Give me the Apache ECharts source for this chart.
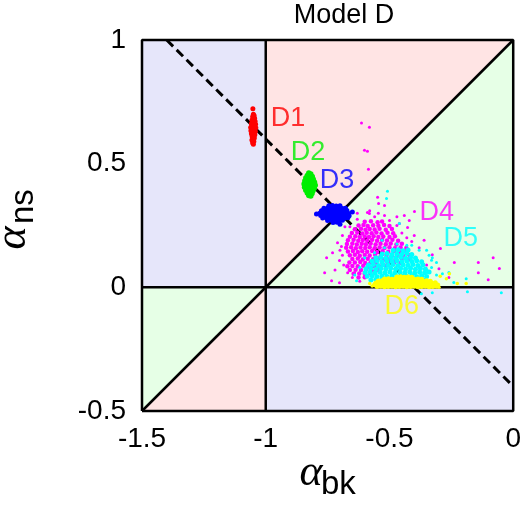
<!DOCTYPE html>
<html>
<head>
<meta charset="utf-8">
<script src="https://cdn.jsdelivr.net/npm/echarts@6/dist/echarts.min.js"></script>
<style>html,body{margin:0;padding:0;background:#fff}#c{width:524px;height:515px}</style>
</head>
<body>
<div id="c"></div>
<script>
// ---- axes ----
const xTicks = [-1.5, -1, -0.5, 0];
const yTicks = [-0.5, 0, 0.5, 1];

// ---- background regions (polygons in data space) ----
const regionPolys = [
  [[-1.5,0],[-1,0],[-1,1],[-1.5,1]],
  [[-1,0],[-1,1],[0,1]],
  [[-1,0],[0,1],[0,0]],
  [[-1,-0.5],[0,-0.5],[0,0],[-1,0]],
  [[-1.5,-0.5],[-1.5,0],[-1,0]],
  [[-1.5,-0.5],[-1,0],[-1,-0.5]]
];
const regionColors = ['#e6e6fa','#ffe4e4','#e6ffe6','#e6e6fa','#e6ffe6','#ffe4e4'];

// ---- reference lines ----
const diagLine = [[-1.5,-0.5],[0,1]];
const dashLine = [[-1.4,1],[0,-0.4]];
const vLine = [[-1,-0.5],[-1,1]];
const hLine = [[-1.5,0],[0,0]];
const frameLine = [[-1.5,-0.5],[0,-0.5],[0,1],[-1.5,1],[-1.5,-0.5]];

// ---- clusters ----
const d1 = [
[-1.052,0.722],
[-1.050,0.700],[-1.047,0.695],[-1.053,0.690],
[-1.045,0.684],[-1.051,0.681],[-1.056,0.676],
[-1.043,0.672],[-1.049,0.669],[-1.054,0.666],[-1.058,0.661],
[-1.041,0.659],[-1.046,0.656],[-1.052,0.654],[-1.057,0.650],[-1.061,0.646],
[-1.040,0.645],[-1.044,0.642],[-1.050,0.640],[-1.055,0.637],[-1.060,0.633],
[-1.042,0.630],[-1.047,0.627],[-1.053,0.625],[-1.058,0.621],
[-1.044,0.617],[-1.049,0.613],[-1.055,0.610],
[-1.046,0.604],[-1.051,0.600],[-1.056,0.596],
[-1.048,0.590],[-1.053,0.585],
[-1.050,0.578]
];
const d2 = [
[-0.826,0.462],[-0.818,0.458],
[-0.832,0.452],[-0.823,0.450],[-0.812,0.448],
[-0.838,0.442],[-0.828,0.440],[-0.818,0.439],[-0.808,0.437],
[-0.842,0.430],[-0.833,0.429],[-0.822,0.428],[-0.812,0.427],[-0.803,0.425],
[-0.845,0.418],[-0.836,0.417],[-0.826,0.416],[-0.816,0.415],[-0.806,0.414],[-0.800,0.413],
[-0.843,0.405],[-0.833,0.404],[-0.823,0.403],[-0.813,0.402],[-0.804,0.401],
[-0.838,0.393],[-0.828,0.392],[-0.818,0.391],[-0.809,0.390],
[-0.832,0.381],[-0.822,0.380],[-0.813,0.379],
[-0.826,0.371],[-0.818,0.369]
];
const d3 = [
[-0.745,0.330],[-0.730,0.331],[-0.715,0.329],[-0.700,0.330],
[-0.765,0.320],[-0.750,0.321],[-0.735,0.319],[-0.720,0.320],[-0.705,0.321],[-0.690,0.319],[-0.678,0.320],
[-0.775,0.310],[-0.760,0.311],[-0.745,0.309],[-0.730,0.310],[-0.715,0.311],[-0.700,0.309],[-0.685,0.310],[-0.672,0.311],
[-0.782,0.300],[-0.767,0.301],[-0.752,0.299],[-0.737,0.300],[-0.722,0.301],[-0.707,0.299],[-0.692,0.300],[-0.677,0.301],[-0.665,0.299],
[-0.778,0.290],[-0.763,0.291],[-0.748,0.289],[-0.733,0.290],[-0.718,0.291],[-0.703,0.289],[-0.688,0.290],[-0.673,0.291],[-0.663,0.289],
[-0.770,0.280],[-0.755,0.281],[-0.740,0.279],[-0.725,0.280],[-0.710,0.281],[-0.695,0.279],[-0.680,0.280],[-0.668,0.281],
[-0.750,0.270],[-0.735,0.271],[-0.720,0.269],[-0.705,0.270],[-0.690,0.271],
[-0.728,0.262],[-0.712,0.263],
[-0.795,0.296],[-0.650,0.305],[-0.700,0.255]
];
// D4: dense core + sparse halo
const d4Core = [
[-0.600,0.265],[-0.575,0.267],[-0.548,0.263],[-0.530,0.266],
[-0.625,0.250],[-0.605,0.252],[-0.588,0.248],[-0.566,0.251],[-0.545,0.249],[-0.522,0.252],[-0.500,0.248],
[-0.640,0.235],[-0.615,0.237],[-0.597,0.233],[-0.580,0.236],[-0.560,0.234],[-0.540,0.237],[-0.515,0.233],[-0.490,0.236],
[-0.652,0.220],[-0.630,0.222],[-0.610,0.218],[-0.592,0.221],[-0.572,0.219],[-0.553,0.222],[-0.532,0.218],[-0.508,0.221],[-0.485,0.219],
[-0.660,0.205],[-0.638,0.207],[-0.620,0.203],[-0.600,0.206],[-0.583,0.204],[-0.564,0.207],[-0.545,0.203],[-0.525,0.206],[-0.500,0.204],[-0.478,0.207],
[-0.668,0.190],[-0.645,0.192],[-0.626,0.188],[-0.608,0.191],[-0.590,0.189],[-0.570,0.192],[-0.550,0.188],[-0.530,0.191],[-0.510,0.189],[-0.488,0.192],[-0.465,0.188],
[-0.672,0.175],[-0.650,0.177],[-0.632,0.173],[-0.612,0.176],[-0.595,0.174],[-0.576,0.177],[-0.556,0.173],[-0.536,0.176],[-0.515,0.174],[-0.495,0.177],[-0.472,0.173],[-0.450,0.176],
[-0.675,0.160],[-0.655,0.162],[-0.636,0.158],[-0.617,0.161],[-0.598,0.159],[-0.580,0.162],[-0.560,0.158],[-0.540,0.161],[-0.520,0.159],[-0.500,0.162],[-0.478,0.158],[-0.455,0.161],[-0.432,0.159],
[-0.668,0.145],[-0.648,0.147],[-0.628,0.143],[-0.610,0.146],[-0.590,0.144],[-0.570,0.147],[-0.550,0.143],[-0.528,0.146],[-0.505,0.144],[-0.482,0.147],[-0.460,0.143],[-0.438,0.146],
[-0.660,0.130],[-0.640,0.132],[-0.620,0.128],[-0.600,0.131],[-0.580,0.129],[-0.558,0.132],[-0.535,0.128],[-0.512,0.131],[-0.490,0.129],[-0.468,0.132],[-0.445,0.128],[-0.420,0.131],
[-0.650,0.115],[-0.628,0.117],[-0.608,0.113],[-0.588,0.116],[-0.566,0.114],[-0.545,0.117],[-0.522,0.113],[-0.498,0.116],[-0.475,0.114],[-0.450,0.117],[-0.425,0.113],
[-0.662,0.100],[-0.640,0.100],[-0.618,0.102],[-0.598,0.098],[-0.576,0.101],[-0.555,0.099],[-0.530,0.102],[-0.505,0.098],[-0.480,0.101],[-0.455,0.099],
[-0.670,0.085],[-0.650,0.086],[-0.628,0.085],[-0.606,0.087],[-0.585,0.083],[-0.562,0.086],[-0.540,0.084],[-0.515,0.087],
[-0.660,0.070],[-0.637,0.071],[-0.615,0.070],[-0.594,0.072],[-0.572,0.068],[-0.550,0.071],
[-0.645,0.055],[-0.622,0.056],[-0.600,0.055],[-0.578,0.057],
[-0.625,0.040],[-0.600,0.041]
];
const d4Sparse = [
[-0.613,0.664],[-0.581,0.647],[-0.601,0.554],[-0.589,0.550],[-0.585,0.477],[-0.548,0.364],[-0.544,0.339],[-0.520,0.331],
[-0.589,0.303],[-0.581,0.299],[-0.399,0.307],[-0.460,0.258],[-0.427,0.242],[-0.754,0.120],[-0.762,0.059],[-0.734,0.027],
[-0.702,0.019],[-0.730,0.140],[-0.702,0.108],[-0.694,0.165],[-0.669,0.059],[-0.641,0.059],[-0.294,0.157],[-0.327,0.132],
[-0.238,0.100],[-0.141,0.100],[-0.141,0.059],[-0.101,0.031],[-0.081,0.120],[-0.056,0.076],[-0.360,0.190],[-0.400,0.210],
[-0.630,0.300],[-0.690,0.210],[-0.710,0.180],[-0.680,0.245],[-0.520,0.290],[-0.470,0.285],[-0.380,0.160],[-0.350,0.090],
[-0.300,0.075],[-0.260,0.040],
[-0.690,0.130],[-0.685,0.090],[-0.660,0.245],[-0.630,0.275],[-0.560,0.285],[-0.500,0.270],[-0.470,0.250],[-0.450,0.220],
[-0.430,0.200],[-0.410,0.185],[-0.720,0.070],[-0.650,0.040],[-0.620,0.025],[-0.700,0.150],[-0.580,0.310],[-0.545,0.300],
[-0.420,0.270],[-0.440,0.290]
];
// D5: dense core + sparse halo
const d5Core = [
[-0.485,0.150],[-0.465,0.152],[-0.445,0.148],[-0.425,0.151],
[-0.530,0.135],[-0.510,0.137],[-0.490,0.133],[-0.470,0.136],[-0.450,0.134],[-0.430,0.137],[-0.410,0.133],
[-0.555,0.120],[-0.535,0.122],[-0.515,0.118],[-0.495,0.121],[-0.475,0.119],[-0.455,0.122],[-0.435,0.118],[-0.415,0.121],[-0.395,0.119],
[-0.570,0.105],[-0.550,0.107],[-0.530,0.103],[-0.510,0.106],[-0.490,0.104],[-0.470,0.107],[-0.450,0.103],[-0.430,0.106],[-0.410,0.104],[-0.390,0.107],[-0.370,0.103],
[-0.585,0.090],[-0.565,0.092],[-0.545,0.088],[-0.525,0.091],[-0.505,0.089],[-0.485,0.092],[-0.465,0.088],[-0.445,0.091],[-0.425,0.089],[-0.405,0.092],[-0.385,0.088],[-0.365,0.091],
[-0.595,0.075],[-0.575,0.077],[-0.555,0.073],[-0.535,0.076],[-0.515,0.074],[-0.495,0.077],[-0.475,0.073],[-0.455,0.076],[-0.435,0.074],[-0.415,0.077],[-0.395,0.073],[-0.375,0.076],[-0.355,0.074],
[-0.598,0.060],[-0.578,0.062],[-0.558,0.058],[-0.538,0.061],[-0.518,0.059],[-0.498,0.062],[-0.478,0.058],[-0.458,0.061],[-0.438,0.059],[-0.418,0.062],[-0.398,0.058],[-0.378,0.061],[-0.358,0.059],[-0.340,0.062],
[-0.590,0.045],[-0.570,0.047],[-0.550,0.043],[-0.530,0.046],[-0.510,0.044],[-0.490,0.047],[-0.470,0.043],[-0.450,0.046],[-0.430,0.044],[-0.410,0.047],[-0.390,0.043],[-0.370,0.046],[-0.350,0.044],
[-0.575,0.030],[-0.555,0.032],[-0.535,0.028],[-0.375,0.031],[-0.355,0.029]
];
const d5Sparse = [
[-0.508,0.388],[-0.512,0.359],[-0.460,0.258],[-0.190,0.035],[-0.185,-0.018],[-0.048,-0.022],[-0.327,-0.022],[-0.371,-0.026],
[-0.286,0.055],[-0.310,0.100],[-0.330,0.110],[-0.327,0.120],[-0.347,0.068],[-0.633,0.027],[-0.530,0.190],[-0.410,0.170],
[-0.380,0.150],[-0.260,0.060],[-0.240,0.020],[-0.640,0.050],
[-0.340,0.130],[-0.350,0.150],[-0.430,0.170],[-0.470,0.175],[-0.520,0.160],[-0.560,0.140],[-0.600,0.120],[-0.620,0.080],
[-0.330,0.080],[-0.310,0.050]
];
const d6 = [
[-0.470,0.042],[-0.455,0.043],[-0.440,0.041],[-0.425,0.042],[-0.410,0.041],
[-0.520,0.034],[-0.505,0.035],[-0.490,0.033],[-0.475,0.034],[-0.460,0.035],[-0.445,0.033],[-0.430,0.034],[-0.415,0.035],[-0.400,0.033],[-0.385,0.034],[-0.370,0.033],
[-0.545,0.026],[-0.530,0.027],[-0.515,0.025],[-0.500,0.026],[-0.485,0.027],[-0.470,0.025],[-0.455,0.026],[-0.440,0.027],[-0.425,0.025],[-0.410,0.026],[-0.395,0.027],[-0.380,0.025],[-0.365,0.026],[-0.350,0.027],[-0.335,0.025],
[-0.555,0.018],[-0.540,0.019],[-0.525,0.017],[-0.510,0.018],[-0.495,0.019],[-0.480,0.017],[-0.465,0.018],[-0.450,0.019],[-0.435,0.017],[-0.420,0.018],[-0.405,0.019],[-0.390,0.017],[-0.375,0.018],[-0.360,0.019],[-0.345,0.017],[-0.330,0.018],[-0.315,0.019],
[-0.560,0.010],[-0.545,0.011],[-0.530,0.009],[-0.515,0.010],[-0.500,0.011],[-0.485,0.009],[-0.470,0.010],[-0.455,0.011],[-0.440,0.009],[-0.425,0.010],[-0.410,0.011],[-0.395,0.009],[-0.380,0.010],[-0.365,0.011],[-0.350,0.009],[-0.335,0.010],[-0.320,0.011],[-0.305,0.009],
[-0.550,0.003],[-0.535,0.004],[-0.520,0.002],[-0.505,0.003],[-0.490,0.004],[-0.475,0.002],[-0.460,0.003],[-0.445,0.004],[-0.430,0.002],[-0.415,0.003],[-0.400,0.004],[-0.385,0.002],[-0.370,0.003],[-0.355,0.004],[-0.340,0.002],[-0.325,0.003],[-0.310,0.004]
];
const d6Sparse = [
[-0.258,0.055],[-0.270,0.035],[-0.226,0.015],[-0.190,0.015],[-0.580,0.015],[-0.295,0.045],[-0.570,0.005],[-0.300,0.000]
];

// ---- cluster labels ----
const labelNames = ['D1','D2','D3','D4','D5','D6'];
const labelAnchors = [[-0.980,0.684],[-0.899,0.544],[-0.782,0.430],[-0.379,0.301],[-0.282,0.199],[-0.520,-0.078]];
const clusterColors = ['#ff0000','#00ee00','#0000ff','#ff00ff','#00ffff','#ffff00'];

const chart = echarts.init(document.getElementById('c'), null, {renderer:'canvas'});

function lineSeries(data, w, dash) {
  return {type:'line', data, symbol:'none', silent:true, clip:false,
    lineStyle:{color:'#000', width:w, type: dash ? [9,5] : 'solid'}, z:3};
}
function scatter(data, color, size) {
  return {type:'scatter', data, symbol:'circle', symbolSize:size, silent:true,
    itemStyle:{color, opacity:1}, z:4};
}

chart.setOption({
  animation:false,
  grid:{left:142, right:10, top:40, bottom:104},
  xAxis:{type:'value', min:-1.5, max:0, interval:0.5,
    axisLine:{show:false}, axisTick:{show:false}, splitLine:{show:false},
    axisLabel:{fontSize:28, color:'#000', fontFamily:'Liberation Sans', margin:14,
      formatter:v=>String(v)}},
  yAxis:{type:'value', min:-0.5, max:1, interval:0.5,
    axisLine:{show:false}, axisTick:{show:false}, splitLine:{show:false},
    axisLabel:{fontSize:28, color:'#000', fontFamily:'Liberation Sans', margin:16,
      formatter:v=>String(v)}},
  series:[
    {type:'custom', silent:true, z:1, clip:true,
      data: regionPolys.map((p,i)=>[p[0][0], p[0][1], i]),
      encode:{x:0, y:1},
      renderItem:(params, api)=>{
        const i = params.dataIndex;
        return {type:'polygon', shape:{points: regionPolys[i].map(pt=>api.coord(pt))},
          style:{fill: regionColors[i], stroke:null}};
      }},
    lineSeries(dashLine, 3, true),
    lineSeries(vLine, 2.5),
    lineSeries(hLine, 2.5),
    lineSeries(diagLine, 2.5),
    scatter(d1, clusterColors[0], 5),
    scatter(d2, clusterColors[1], 5.5),
    scatter(d3, clusterColors[2], 5),
    scatter(d4Core, clusterColors[3], 4.5),
    scatter(d4Sparse, clusterColors[3], 3),
    scatter(d5Core, clusterColors[4], 5),
    scatter(d5Sparse, clusterColors[4], 3),
    scatter(d6, clusterColors[5], 5),
    scatter(d6Sparse, clusterColors[5], 3.5),
    Object.assign(lineSeries(frameLine, 2.5), {z:5}),
    {type:'scatter', silent:true, z:6, symbolSize:0,
      data: labelAnchors.map((p,i)=>({value:p, name:labelNames[i],
        label:{color:clusterColors[i]}})),
      label:{show:true, position:'right', distance:0, formatter:'{b}',
        fontSize:27, fontFamily:'Liberation Sans'}}
  ],
  graphic:[
    {type:'text', x:344, y:16, style:{text:'Model D', fill:'#000', fontSize:27,
      fontFamily:'Liberation Sans', align:'center', verticalAlign:'middle'}},
    {type:'text', x:311, y:473, style:{text:'α', fill:'#000', fontSize:44,
      fontFamily:'Liberation Serif', fontStyle:'italic', align:'center', verticalAlign:'middle'}},
    {type:'text', x:321, y:485, style:{text:'bk', fill:'#000', fontSize:33,
      fontFamily:'Liberation Sans', align:'left', verticalAlign:'middle'}},
    {type:'group', x:0, y:238, rotation:Math.PI/2, children:[
      {type:'text', x:0, y:13, style:{text:'α', fill:'#000', fontSize:44,
        fontFamily:'Liberation Serif', fontStyle:'italic', align:'center', verticalAlign:'middle'}},
      {type:'text', x:14, y:24, style:{text:'ns', fill:'#000', fontSize:33,
        fontFamily:'Liberation Sans', align:'left', verticalAlign:'middle'}}
    ]}
  ]
});
</script>
</body>
</html>
